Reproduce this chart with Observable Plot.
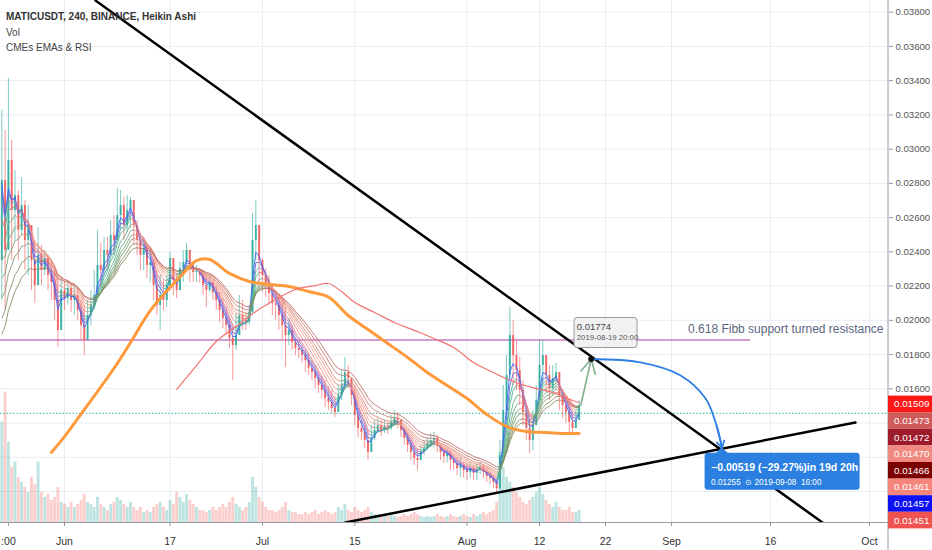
<!DOCTYPE html>
<html><head><meta charset="utf-8">
<script src="https://cdn.jsdelivr.net/npm/d3@7"></script>
<script src="https://cdn.jsdelivr.net/npm/@observablehq/plot@0.6"></script>
<style>
html,body{margin:0;padding:0;background:#fff;}
#chart{position:relative;width:932px;height:550px;overflow:hidden;}
</style></head><body><div id="chart"></div>
<script>
const FONT = "'Liberation Sans',Arial,sans-serif";
// prices are written in units of 0.00001 USDT
const U = 1e-5;
const firstCandle = "2019-05-22T12:00:00Z";
const candleHours = 12;
const openFirst = 2349;
const closeP = [2817,2408,2934,2642,2729,2525,2671,2466,2554,2349,
2203,2379,2291,2361,2262,2221,2116,1941,2174,2127,
2186,2116,2145,2057,1970,1882,2028,2087,2145,2320,
2291,2408,2379,2496,2466,2612,2671,2554,2642,2700,
2554,2466,2379,2420,2320,2338,2203,2087,2145,2116,
2203,2361,2233,2174,2303,2338,2408,2320,2279,2291,
2262,2203,2174,2221,2162,2116,2057,2011,1970,1894,
1853,1911,2028,1999,1987,2046,2466,2554,2349,2262,
2215,2157,2098,2087,2028,1970,1911,1941,1870,1835,
1824,1794,1765,1719,1695,1660,1619,1590,1543,1520,
1485,1461,1561,1619,1695,1660,1561,1444,1368,1345,
1298,1228,1310,1356,1385,1356,1380,1368,1403,1426,
1415,1356,1310,1269,1228,1193,1181,1228,1251,1280,
1298,1310,1263,1228,1204,1222,1181,1163,1134,1152,
1123,1111,1134,1105,1123,1146,1111,1088,1076,1053,
1017,1210,1473,1678,1911,1794,1707,1590,1461,1368,
1298,1385,1532,1736,1794,1678,1602,1660,1695,1561,
1502,1461,1403,1368,1415,1502];
const highP = [3226,3109,3413,3051,2875,2758,2834,2700,2671,2525,
2466,2542,2437,2408,2379,2338,2291,2250,2244,2221,
2233,2215,2203,2186,2116,2087,2116,2174,2291,2525,
2449,2484,2484,2583,2612,2770,2758,2718,2729,2718,
2671,2583,2496,2484,2449,2425,2349,2291,2262,2233,
2262,2396,2338,2274,2338,2408,2449,2379,2338,2320,
2303,2291,2262,2256,2233,2192,2162,2127,2075,2011,
1970,2040,2145,2116,2046,2087,2624,2700,2466,2361,
2303,2262,2215,2174,2133,2104,2075,2011,1970,1894,
1882,1853,1824,1806,1765,1736,1695,1672,1648,1613,
1590,1555,1619,1707,1783,1736,1660,1619,1473,1415,
1385,1356,1385,1415,1426,1415,1415,1403,1444,1473,
1461,1415,1368,1339,1298,1269,1251,1269,1298,1315,
1339,1345,1327,1274,1251,1251,1239,1210,1199,1199,
1169,1163,1169,1152,1158,1169,1152,1140,1111,1093,
1064,1298,1619,1794,2075,1999,1882,1783,1648,1502,
1415,1473,1619,1882,1882,1794,1736,1736,1748,1678,
1590,1543,1502,1461,1473,1532];
const lowP = [2116,2057,2408,2349,2466,2349,2496,2291,2262,2174,
2098,2233,2203,2262,2174,2116,1999,1841,2087,2057,
2087,2046,2028,1999,1882,1794,1911,1970,2087,2174,
2186,2262,2291,2379,2379,2496,2525,2466,2513,2536,
2437,2379,2291,2291,2244,2221,2116,2028,1941,2057,
2075,2174,2145,2127,2203,2221,2279,2221,2221,2221,
2215,2145,2075,2162,2116,2057,1987,1952,1911,1835,
1648,1824,1911,1941,1941,1970,2028,2349,2186,2162,
2133,2087,2028,1999,1941,1882,1724,1853,1824,1794,
1777,1753,1695,1678,1648,1602,1572,1543,1491,1473,
1456,1432,1473,1532,1607,1602,1502,1385,1315,1298,
1251,1181,1239,1298,1339,1321,1339,1333,1356,1385,
1368,1315,1269,1228,1181,1152,1123,1193,1210,1239,
1257,1257,1228,1181,1163,1169,1123,1123,1093,1082,
1076,1064,1076,1064,1064,1099,1076,1053,1041,1017,
988,1006,1193,1415,1648,1619,1590,1502,1385,1298,
1222,1239,1385,1532,1619,1578,1532,1561,1590,1473,
1426,1397,1339,1339,1368,1426];
// relative volume per candle
const volume = [100,130,80,55,60,45,
40,35,30,45,38,60,30,25,28,22,
25,35,20,18,15,20,15,18,22,28,20,18,15,25,18,
15,12,18,20,25,22,18,15,20,15,12,15,10,12,10,15,18,20,15,12,
22,18,30,25,20,28,22,18,15,12,
12,10,12,15,12,15,18,15,20,25,18,15,12,15,20,
45,35,25,20,15,12,12,10,12,15,20,12,10,10,8,
8,10,8,10,12,8,10,12,10,8,10,15,12,18,12,10,15,12,10,12,
15,10,8,8,6,8,6,8,6,5,6,8,6,8,10,8,6,5,6,5,6,8,6,5,6,8,6,5,6,8,6,5,8,6,8,10,8,10,12,20,
70,55,45,40,35,30,25,20,18,22,25,30,35,28,22,18,15,20,15,12,12,15,10,10,12];

const emaPeriods = [3,4,5,6,8,10,12,14,17,20];
const emaSeeds = [2788,2700,2612,2496,2379,2262,2145,2028,1911,1824];

const orangeDates = ["2019-05-30","2019-06-01","2019-06-04","2019-06-06","2019-06-09","2019-06-11","2019-06-14","2019-06-17","2019-06-19","2019-06-21","2019-06-23","2019-06-26","2019-06-29","2019-07-02","2019-07-05","2019-07-08","2019-07-11","2019-07-14","2019-07-17","2019-07-20","2019-07-23","2019-07-26","2019-07-29","2019-08-01","2019-08-04","2019-08-07","2019-08-10","2019-08-13","2019-08-16","2019-08-18"];
const orangeP = [1228,1321,1479,1584,1748,1870,2057,2192,2274,2349,2355,2274,2227,2209,2198,2168,2136,2028,1946,1865,1783,1695,1619,1543,1450,1380,1350,1345,1339,1339];
const redDates = ["2019-06-18","2019-06-21","2019-06-24","2019-06-27","2019-06-30","2019-07-03","2019-07-06","2019-07-09","2019-07-11","2019-07-13","2019-07-15","2019-07-18","2019-07-21","2019-07-24","2019-07-27","2019-07-30","2019-08-02","2019-08-05","2019-08-08","2019-08-11","2019-08-14","2019-08-17","2019-08-18"];
const redP = [1596,1736,1876,1964,2052,2122,2180,2203,2215,2168,2104,2046,1987,1941,1894,1841,1753,1695,1643,1607,1578,1532,1520];

const fibLevel = 0.01885, fibEnd = "2019-09-13T00:00:00Z";
const fibLabel = "0.618 Fibb support turned resistance";
const cyanLevel = 0.01457;
const downLine = [{t:"2019-06-05T16:45:00Z", v:0.03868},{t:"2019-09-23T21:00:00Z", v:0.00819}];
const upLine = [{t:"2019-07-13T14:00:00Z", v:0.00819},{t:"2019-09-28T21:00:00Z", v:0.01403}];
const tipPoint = {t:"2019-08-19T20:00:00Z", v:0.01774};
const arrowStart = {t:"2019-08-18T06:00:00Z", v:0.01505};
const blueCurve = [{t:"2019-08-19T20:00:00Z", v:0.01774},{t:"2019-08-27T07:00:00Z", v:0.01754},{t:"2019-09-02T09:00:00Z", v:0.01678},{t:"2019-09-06T04:00:00Z", v:0.01543},{t:"2019-09-07T20:00:00Z", v:0.01385},{t:"2019-09-08T16:00:00Z", v:0.01255}];
const tipTexts = ["0.01774","2019-08-19 20:00"];
const boxTexts = ["\u22120.00519 (\u221229.27%)in 19d 20h","0.01255  \u2299 2019-09-08  16:00"];
const priceLabels = ["0.01509","0.01473","0.01472","0.01470","0.01466","0.01461","0.01457","0.01451"];
const priceLabelColors = ["#ff1717","#cf5a5a","#9e1b2b","#f08a80","#7c0000","#f6857b","#0d10f2","#ef5350"];
const legendLines = ["MATICUSDT, 240, BINANCE, Heikin Ashi","Vol","CMEs EMAs & RSI"];
const yTicks = [0.016,0.018,0.020,0.022,0.024,0.026,0.028,0.030,0.032,0.034,0.036,0.038];
const yGrid = [0.010,0.012,0.014,0.016,0.018,0.020,0.022,0.024,0.026,0.028,0.030,0.032,0.034,0.036,0.038];
const xTickDates = ["2019-05-23T12:00:00Z","2019-06-01","2019-06-17","2019-07-01","2019-07-15","2019-08-01","2019-08-12","2019-08-22","2019-09-01","2019-09-16","2019-10-01"];
const xTickLabels = [":00","Jun","17","Jul","15","Aug","12","22","Sep","16","Oct"];
const xDomain = ["2019-05-22T07:12:00Z","2019-10-03T21:18:00Z"];
const yDomain = [0.0081895, 0.038684];

// ---- derived tables ----
const T = s => new Date(s);
const t0 = T(firstCandle).getTime();
const candles = closeP.map((c,i)=>{
  const o = i===0 ? openFirst : closeP[i-1];
  return {t:new Date(t0+i*candleHours*3600e3), o:o*U, c:c*U,
    h:Math.max(highP[i],o,c)*U, l:Math.min(lowP[i],o,c)*U, v:volume[i], up:c>=o};
});
const UP="#26a69a", DN="#ef5350";
const volK = (yDomain[1]-yDomain[0])*0.25/d3.max(volume);
const ribbonFast = ["#2962ff","#6a5acd"];
const ribbonUp = [null,null,"#3fb59e","#4db38f","#5cad83","#68a67a","#72a073","#7a996c","#7f9266","#828b60"];
const ribbonDown = [null,null,"#a77ad8","#e57373","#f08a80","#f4a090","#e9967a","#dc8474","#cd776b","#bd6a62"];
const segs = [];
emaPeriods.forEach((N,k)=>{
  const a = 2/(N+1); let prev = emaSeeds[k]*U;
  const vals = candles.map(d => (prev = a*d.c + (1-a)*prev));
  for (let i=1;i<vals.length;i++){
    const rising = vals[i] >= vals[i-1];
    segs.push({x1:candles[i-1].t, y1:vals[i-1], x2:candles[i].t, y2:vals[i],
      color: k<2 ? ribbonFast[k] : (rising ? ribbonUp[k] : ribbonDown[k])});
  }
});
const orange = orangeDates.map((d,i)=>({t:T(d), v:orangeP[i]*U}));
const redSma = redDates.map((d,i)=>({t:T(d), v:redP[i]*U}));
const lab = new Map(xTickDates.map((d,i)=>[+T(d), xTickLabels[i]]));
const pt = d => ({t:T(d.t), v:d.v});
const BLUE = "#2f80e6";

const plot = Plot.plot({
  width: 932, height: 550,
  marginLeft: 0, marginRight: 44, marginTop: 0, marginBottom: 28,
  style: {fontFamily: FONT, fontSize: "10px", color: "#4a4a4a", background: "#fff"},
  x: {type: "utc", domain: xDomain.map(T)},
  y: {domain: yDomain},
  color: {type: "identity"},
  marks: [
    Plot.gridY(yGrid, {stroke: "#e8edf4", strokeOpacity: 1}),
    Plot.gridX(xTickDates.slice(1).map(T), {stroke: "#e8edf4", strokeOpacity: 1}),
    Plot.ruleX(candles, {x: "t", y1: () => yDomain[0], y2: d => yDomain[0] + d.v*volK,
      stroke: d => d.up ? "rgba(38,166,154,0.30)" : "rgba(239,83,80,0.28)", strokeWidth: 2.9}),
    Plot.ruleY([fibLevel], {x1: () => T(xDomain[0]), x2: () => T(fibEnd), stroke: "#c57bc4", strokeWidth: 1.3}),
    Plot.ruleY([cyanLevel], {stroke: "#5dbfb2", strokeWidth: 1.3, strokeDasharray: "1.5,1.8"}),
    Plot.ruleX(candles, {x: "t", y1: "l", y2: "h", stroke: d => d.up ? UP : DN, strokeWidth: 1, strokeOpacity: 0.6}),
    Plot.ruleX(candles, {x: "t", y1: "o", y2: "c", stroke: d => d.up ? UP : DN, strokeWidth: 2, strokeOpacity: 0.8}),
    Plot.link(segs, {x1: "x1", y1: "y1", x2: "x2", y2: "y2", stroke: "color", strokeWidth: 1, strokeOpacity: 0.85}),
    Plot.line(orange, {x: "t", y: "v", stroke: "#ff9a3c", strokeWidth: 3, curve: "catmull-rom"}),
    Plot.line(redSma, {x: "t", y: "v", stroke: "#f27272", strokeWidth: 1.2, curve: "catmull-rom"}),
    Plot.line(downLine.map(pt), {x: "t", y: "v", stroke: "#000", strokeWidth: 2.5, clip: true}),
    Plot.line(upLine.map(pt), {x: "t", y: "v", stroke: "#000", strokeWidth: 2.5, clip: true}),
    Plot.line(blueCurve.map(pt), {x: "t", y: "v", stroke: BLUE, strokeWidth: 1.8, curve: "catmull-rom"}),
    Plot.arrow([{a: pt(blueCurve[4]), b: pt(blueCurve[5])}], {x1: d => d.a.t, y1: d => d.a.v, x2: d => d.b.t, y2: d => d.b.v, stroke: BLUE, strokeWidth: 1.8, headLength: 9}),
    Plot.arrow([{a: pt(arrowStart), b: pt(tipPoint)}], {x1: d => d.a.t, y1: d => d.a.v, x2: d => d.b.t, y2: d => d.b.v, stroke: "#7fae8a", strokeWidth: 1.6, headLength: 16, headAngle: 55}),
    Plot.dot([pt(tipPoint)], {x: "t", y: "v", r: 3, fill: "#111"}),
    Plot.text([fibLabel], {text: d => d, y: () => fibLevel, frameAnchor: "right", textAnchor: "end", dx: -5, dy: -11, fontSize: 12, fill: "#5b6780"}),
    Plot.axisY({anchor: "right", ticks: yTicks, tickFormat: d3.format(".5f"), tickSize: 4, tickPadding: 3, label: null, fontSize: 9.6, stroke: "#9598a1", fill: "#555"}),
    Plot.axisX({ticks: xTickDates.map(T), tickFormat: d => lab.get(+d), tickSize: 4, tickPadding: 11, label: null, fontSize: 10.5, stroke: "#9598a1", fill: "#333"}),
    Plot.ruleY([yDomain[0]], {stroke: "#9598a1", strokeWidth: 1})
  ]
});
document.getElementById("chart").appendChild(plot);

const svg = d3.select(plot);
const xs = plot.scale("x"), ys = plot.scale("y");
const g = svg.append("g").attr("font-family", FONT).attr("text-anchor", "start");
const xRight = xs.apply(T(xDomain[1]));
g.append("line").attr("x1", xRight).attr("x2", xRight).attr("y1", 0).attr("y2", 550).attr("stroke", "#9598a1");

// legend
legendLines.forEach((t,i)=> g.append("text").attr("x", 6).attr("y", 20 + i*15.5)
  .attr("font-size", 10).attr("font-weight", i===0 ? "bold" : "normal").attr("fill", i===0 ? "#333" : "#444").text(t));

// stacked price labels
const yTop = ys.apply(+priceLabels[0]);
priceLabels.forEach((p,i)=>{
  const cy = yTop + i*16.6;
  g.append("rect").attr("x", xRight).attr("y", cy-8.3).attr("width", 932-xRight).attr("height", 16.6).attr("fill", priceLabelColors[i]);
  g.append("text").attr("x", xRight+6).attr("y", cy).attr("dy", "0.35em").attr("font-size", 9.8).attr("fill", "#fff").text(p);
});

// tooltip box at the touch point
const px = xs.apply(T(tipPoint.t)), py = ys.apply(tipPoint.v);
g.append("rect").attr("x", px-16.7).attr("y", py-41).attr("width", 63).attr("height", 30).attr("rx", 3)
  .attr("fill", "#f1f1f1").attr("stroke", "#9a9a9a");
g.append("text").attr("x", px-14).attr("y", py-28.5).attr("font-size", 9.5).attr("fill", "#444").text(tipTexts[0]);
g.append("text").attr("x", px-14).attr("y", py-18.5).attr("font-size", 7.8).attr("fill", "#555").text(tipTexts[1]);

// measure box at the arrow end
const ex = xs.apply(T(blueCurve[5].t)), ey = ys.apply(blueCurve[5].v);
g.append("path").attr("d", `M${ex-6},${ey+6}L${ex},${ey}L${ex+6},${ey+6}Z`).attr("fill", BLUE);
g.append("rect").attr("x", ex-17).attr("y", ey+5.5).attr("width", 155).attr("height", 37).attr("rx", 3).attr("fill", "#2a7fe0");
g.append("text").attr("x", ex-10.5).attr("y", ey+23.5).attr("font-size", 10.5).attr("font-weight", "bold").attr("fill", "#fff").text(boxTexts[0]);
g.append("text").attr("x", ex-10.5).attr("y", ey+37.5).attr("font-size", 8.2).attr("fill", "#fff").text(boxTexts[1]);
</script></body></html>
